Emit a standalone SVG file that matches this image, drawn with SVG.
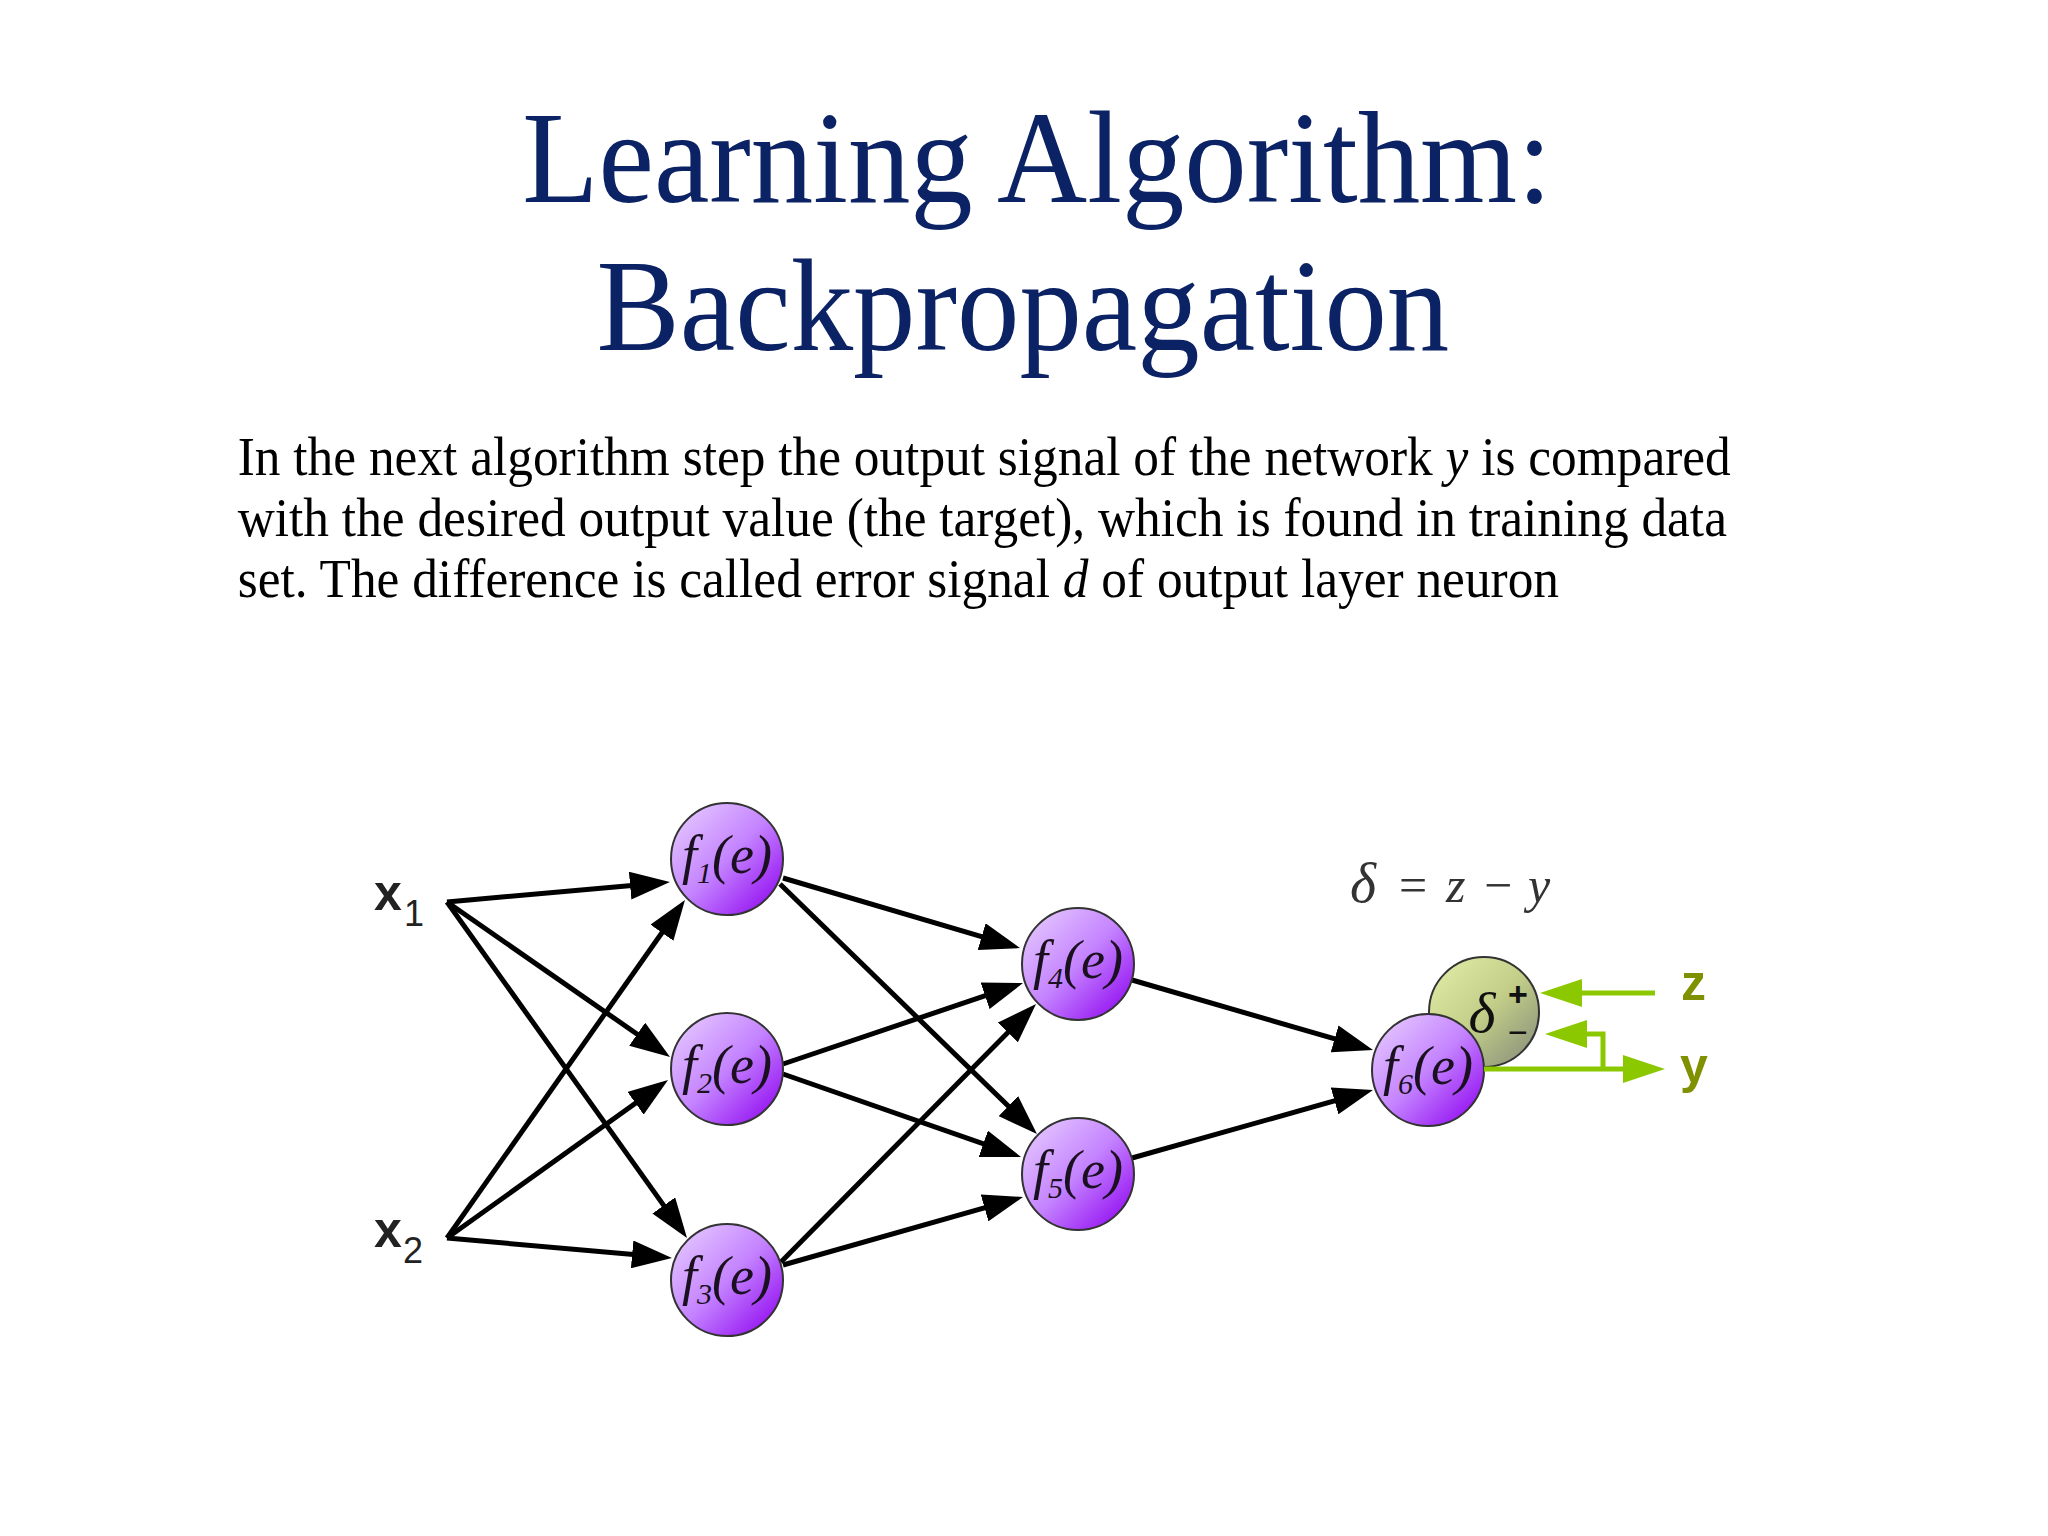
<svg xmlns="http://www.w3.org/2000/svg" width="2048" height="1536" viewBox="0 0 2048 1536">
<style>
.title{font-family:"Liberation Serif","Times New Roman",serif;font-size:131px;fill:#0b2265}
.para{font-family:"Liberation Serif","Times New Roman",serif;font-size:54px;fill:#000}
.nlabel{font-family:"Liberation Serif","Times New Roman",serif;font-style:italic;font-size:54px;fill:#1a1020;text-anchor:middle}
.inp{font-family:"Liberation Sans",Arial,sans-serif;font-weight:bold;font-size:50px;fill:#222}
.sub{font-family:"Liberation Sans",Arial,sans-serif;font-weight:normal;font-size:36px;fill:#222}
.gl{font-family:"Liberation Sans",Arial,sans-serif;font-weight:bold;font-size:50px;fill:#7f9000}
.formula{font-family:"Liberation Serif","Times New Roman",serif;font-size:50px;fill:#333}
.edge{stroke:#000;stroke-width:5;fill:none;marker-end:url(#ah)}
.gedge{stroke:#8cc800;stroke-width:5;fill:none;marker-end:url(#gah)}
.node{fill:url(#ng);stroke:#333;stroke-width:2}
</style>
<defs>
<linearGradient id="ng" x1="0.1" y1="0.1" x2="0.9" y2="0.9">
<stop offset="0" stop-color="#e2c2ff"/>
<stop offset="0.5" stop-color="#c483ff"/>
<stop offset="1" stop-color="#9614f2"/>
</linearGradient>
<linearGradient id="dg" x1="0.1" y1="0.1" x2="0.9" y2="0.9">
<stop offset="0" stop-color="#dde9a2"/>
<stop offset="0.5" stop-color="#c3cf88"/>
<stop offset="1" stop-color="#8f967c"/>
</linearGradient>
<marker id="ah" markerUnits="userSpaceOnUse" markerWidth="42" markerHeight="28" refX="30" refY="14" orient="auto">
<path d="M0,0 L40,14 L0,28 Z" fill="#000"/>
</marker>
<marker id="gah" markerUnits="userSpaceOnUse" markerWidth="44" markerHeight="28" refX="32" refY="14" orient="auto">
<path d="M0,0 L42,14 L0,28 Z" fill="#8cc800"/>
</marker>
</defs>
<rect width="2048" height="1536" fill="#fff"/>

<g id="title" transform="scale(0.953,1)">
<text class="title" x="548" y="202">Learning Algorithm:</text>
<text class="title" x="626" y="350">Backpropagation</text>
</g>

<g id="paragraph" transform="scale(0.951,1)">
<text class="para" x="250" y="475">In the next algorithm step the output signal of the network <tspan font-style="italic">y</tspan> is compared</text>
<text class="para" x="250" y="536">with the desired output value (the target), which is found in training data</text>
<text class="para" x="250" y="597">set. The difference is called error signal <tspan font-style="italic">d</tspan> of output layer neuron</text>
</g>

<g id="connectors">
<line class="edge" x1="447" y1="902" x2="660.0" y2="882.9"/>
<line class="edge" x1="447" y1="902" x2="661.8" y2="1051.3"/>
<line class="edge" x1="447" y1="902" x2="681.2" y2="1229.9"/>
<line class="edge" x1="447" y1="1238" x2="679.2" y2="908.2"/>
<line class="edge" x1="447" y1="1238" x2="659.9" y2="1085.8"/>
<line class="edge" x1="447" y1="1238" x2="662.0" y2="1257.1"/>
<line class="edge" x1="783" y1="878" x2="1010.4" y2="945.2"/>
<line class="edge" x1="780" y1="884" x2="1029.8" y2="1127.0"/>
<line class="edge" x1="783" y1="1064" x2="1013.5" y2="986.2"/>
<line class="edge" x1="783" y1="1074" x2="1011.6" y2="1153.7"/>
<line class="edge" x1="781" y1="1262" x2="1029.0" y2="1011.1"/>
<line class="edge" x1="783" y1="1265" x2="1013.4" y2="1199.7"/>
<line class="edge" x1="1132" y1="980" x2="1363.4" y2="1047.2"/>
<line class="edge" x1="1132" y1="1158" x2="1363.4" y2="1092.7"/>
</g>

<g id="x1">
<text class="inp" x="374" y="910">x</text>
<text class="sub" x="404" y="926">1</text>
</g>
<g id="x2">
<text class="inp" x="374" y="1247">x</text>
<text class="sub" x="403" y="1263">2</text>
</g>

<g id="f1">
<circle class="node" cx="727" cy="859" r="56"/>
<text class="nlabel" x="727" y="873">f<tspan font-size="30" dy="10">1</tspan><tspan dy="-10">(e)</tspan></text>
</g>
<g id="f2">
<circle class="node" cx="727" cy="1069" r="56"/>
<text class="nlabel" x="727" y="1083">f<tspan font-size="30" dy="10">2</tspan><tspan dy="-10">(e)</tspan></text>
</g>
<g id="f3">
<circle class="node" cx="727" cy="1280" r="56"/>
<text class="nlabel" x="727" y="1294">f<tspan font-size="30" dy="10">3</tspan><tspan dy="-10">(e)</tspan></text>
</g>
<g id="f4">
<circle class="node" cx="1078" cy="964" r="56"/>
<text class="nlabel" x="1078" y="978">f<tspan font-size="30" dy="10">4</tspan><tspan dy="-10">(e)</tspan></text>
</g>
<g id="f5">
<circle class="node" cx="1078" cy="1174" r="56"/>
<text class="nlabel" x="1078" y="1188">f<tspan font-size="30" dy="10">5</tspan><tspan dy="-10">(e)</tspan></text>
</g>

<g id="delta">
<circle cx="1484" cy="1012" r="55" fill="url(#dg)" stroke="#333" stroke-width="2"/>
<text x="1482" y="1032" font-family="Liberation Serif,serif" font-style="italic" font-size="58" fill="#111" text-anchor="middle">δ</text>
<text x="1518" y="1006" font-family="Liberation Sans,Arial,sans-serif" font-weight="bold" font-size="34" fill="#111" text-anchor="middle">+</text>
<text x="1518" y="1044" font-family="Liberation Sans,Arial,sans-serif" font-size="34" fill="#111" text-anchor="middle">−</text>
</g>

<g id="f6">
<circle class="node" cx="1428" cy="1070" r="56"/>
<text class="nlabel" x="1428" y="1084">f<tspan font-size="30" dy="10">6</tspan><tspan dy="-10">(e)</tspan></text>
</g>

<g id="green-connectors">
<line class="gedge" x1="1655" y1="993" x2="1550" y2="993"/>
<line class="gedge" x1="1484" y1="1069" x2="1655" y2="1069"/>
<polyline class="gedge" points="1603,1069 1603,1034 1555,1034"/>
</g>

<g id="z">
<text class="gl" x="1681" y="1000">z</text>
</g>
<g id="y">
<text class="gl" x="1680" y="1083">y</text>
</g>

<g id="formula">
<text class="formula" y="902"><tspan x="1350" font-style="italic" font-size="56">δ</tspan><tspan x="1399">=</tspan><tspan x="1446" font-style="italic">z</tspan><tspan x="1484">−</tspan><tspan x="1528" font-style="italic">y</tspan></text>
</g>
</svg>
